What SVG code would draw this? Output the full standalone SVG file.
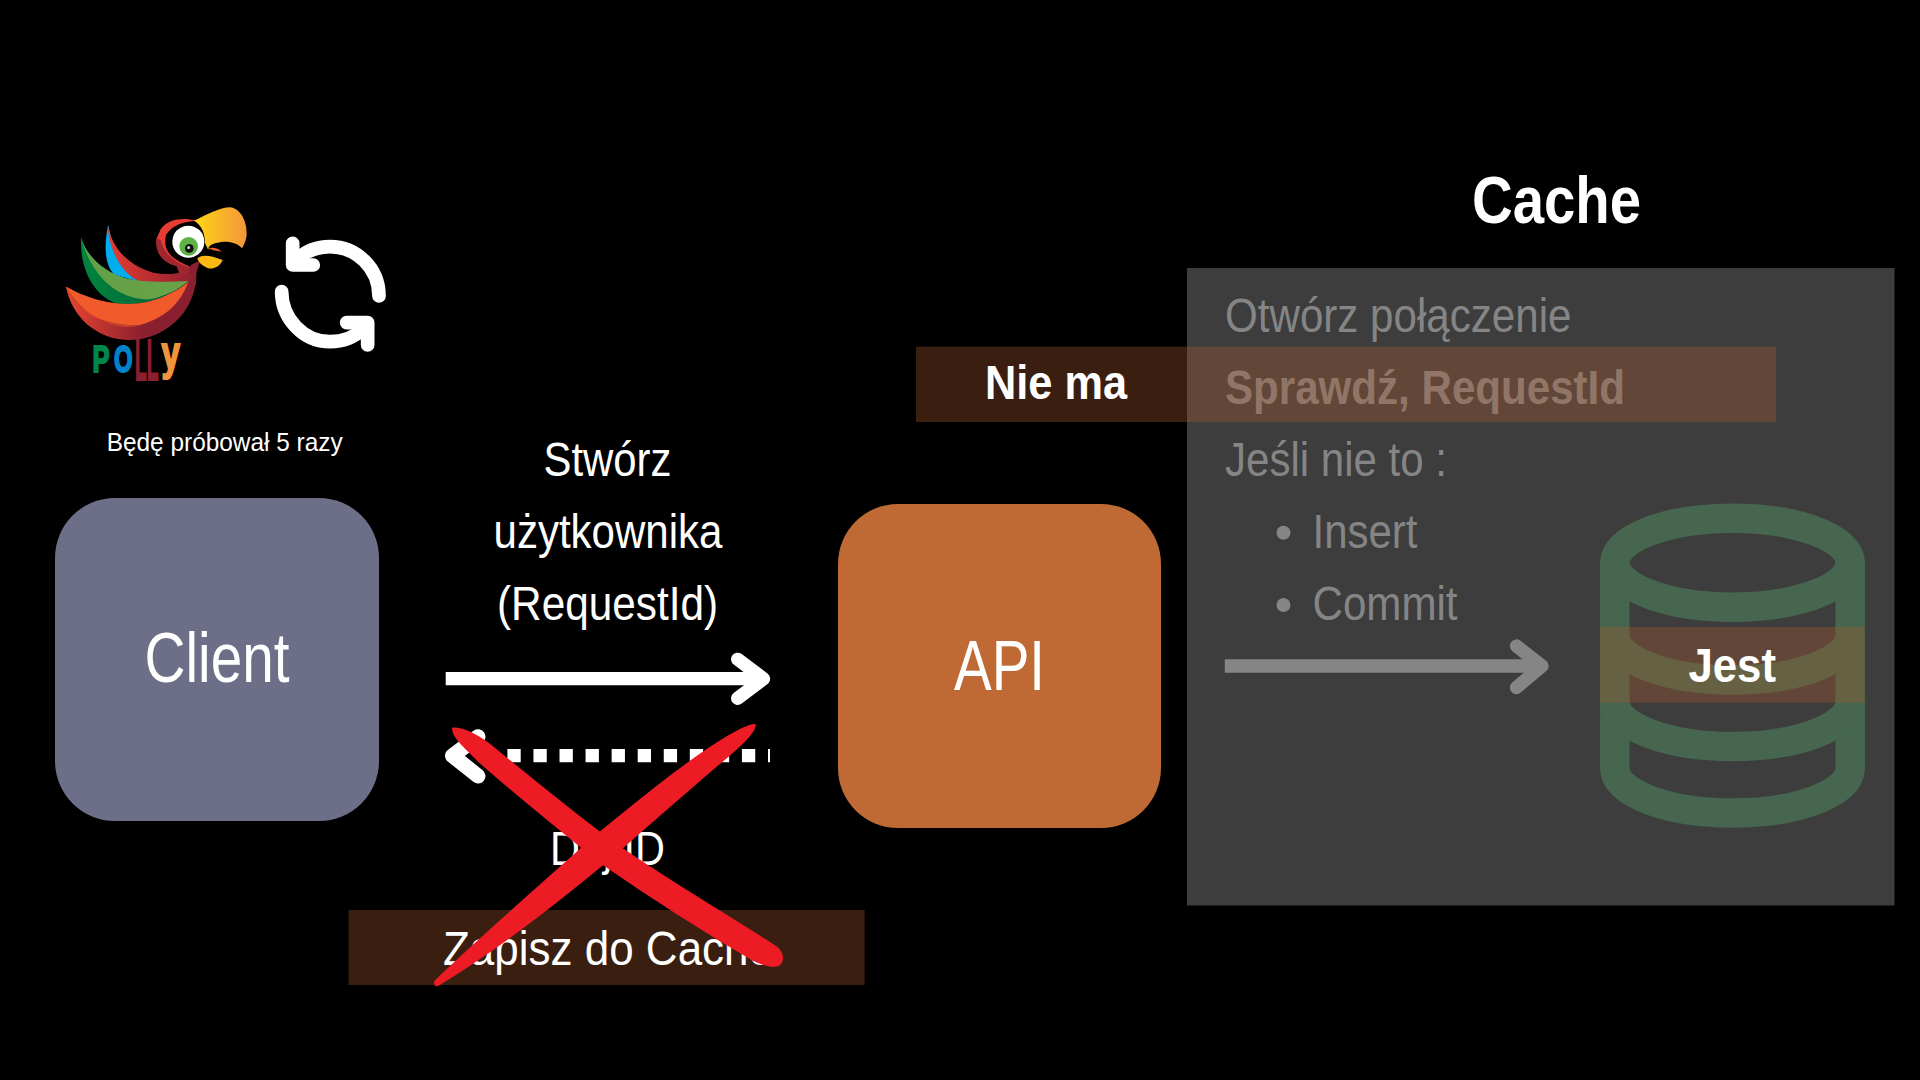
<svg xmlns="http://www.w3.org/2000/svg" width="1920" height="1080" viewBox="0 0 1920 1080">
<style>
text{font-family:"Liberation Sans Narrow","Liberation Sans",Arial,sans-serif;fill:#fff}
.t48{font-size:49px}
.b{font-weight:700}
.g{fill:#858585}
.ar{fill:none;stroke:#fff;stroke-width:13.3;stroke-linejoin:round;stroke-linecap:round}
.ln{fill:none;stroke:#fff;stroke-width:13.3}
.band{fill:#a85a2e;fill-opacity:.344}
</style>
<defs>
<linearGradient id="beak" x1="0" x2="1" y1="0" y2="0"><stop offset="0" stop-color="#ffd513"/><stop offset="1" stop-color="#f2963a"/></linearGradient>
<linearGradient id="wred" x1="0" x2="1" y1="0" y2="0"><stop offset="0" stop-color="#e63c33"/><stop offset="1" stop-color="#8a1f2f"/></linearGradient>
<linearGradient id="wgreen" x1="0" x2="1" y1="0" y2="1"><stop offset="0" stop-color="#5f9e46"/><stop offset="1" stop-color="#6aa34a"/></linearGradient>
<linearGradient id="wdark" x1="0" x2="1" y1="0" y2="0"><stop offset="0" stop-color="#00853f"/><stop offset="1" stop-color="#005c33"/></linearGradient>
<linearGradient id="body" x1="0" x2="1" y1="0" y2="0"><stop offset="0" stop-color="#e8452f"/><stop offset=".6" stop-color="#8a1f2f"/></linearGradient>
</defs>
<rect width="1920" height="1080" fill="#000"/>

<g id="polly-logo">
<g transform="translate(40,190) scale(.33333)">
<path d="M205,105C190,170 195,230 225,255L300,275C250,220 215,170 205,105Z" fill="#00aeef"/>
<path d="M203,105C215,170 260,225 340,248C390,258 440,252 470,215L468,285C430,295 340,290 290,270C240,245 205,170 203,105Z" fill="url(#wred)"/>
<path d="M123,142C118,270 190,345 270,350C350,340 420,300 445,275C400,278 350,280 300,275C210,265 140,205 123,142Z" fill="url(#wdark)"/>
<path d="M123,142C140,205 210,265 300,272C350,277 400,275 445,273C420,295 380,318 330,328C250,330 160,280 123,142Z" fill="url(#wgreen)"/>
<path d="M78,290C95,380 170,450 270,450C370,450 465,370 468,262L445,275C400,310 360,330 300,340C220,350 140,325 78,290Z" fill="url(#body)"/>
<path d="M78,290C140,325 220,350 300,340C360,330 410,305 445,275C420,345 370,385 300,405C200,410 110,370 78,290Z" fill="#f15a2b"/>
<path d="M78,290C110,370 200,410 300,405C250,425 140,395 78,290Z" fill="#c8402f"/>
<path d="M470,92C430,82 385,85 362,118L350,145C345,180 360,215 410,228L418,248L445,250L450,230C405,210 365,190 378,135C395,105 430,95 470,92Z" fill="#e63c33"/>
<path d="M350,145C345,180 360,215 410,228L418,248L445,250L450,232C415,222 375,200 362,150Z" fill="#a0262f"/>
<path d="M445,250L468,252L480,212L452,225Z" fill="#8a1f2f"/>
<circle cx="443" cy="155" r="55" fill="#000"/>
<circle cx="445" cy="155" r="48" fill="#fff"/>
<circle cx="446" cy="169" r="28" fill="#5fb346"/>
<circle cx="448" cy="175" r="13" fill="#111"/>
<circle cx="446" cy="173" r="4" fill="#fff"/>
<path d="M462,92C500,75 540,52 570,52C600,55 620,90 620,130C620,150 612,165 606,175C590,155 555,150 525,160C510,165 505,170 505,180L495,160C495,130 485,105 462,92Z" fill="url(#beak)"/>
<path d="M472,205C490,190 520,200 548,210C540,230 520,238 505,235C490,230 475,218 472,205Z" fill="#fdb913"/>
<path d="M505,175C520,170 535,175 545,185C530,182 515,182 505,175Z" fill="#f15a2b"/>
</g>
<text class="b"><tspan x="92.5" y="371.7" font-size="36" style="fill:#00854a;stroke:#00854a;stroke-width:2" textLength="17" lengthAdjust="spacingAndGlyphs">P</tspan><tspan x="114" y="371.7" font-size="36" style="fill:#0083ca;stroke:#0083ca;stroke-width:2" textLength="18.5" lengthAdjust="spacingAndGlyphs">O</tspan><tspan x="135" y="379.7" font-size="58" style="fill:#8a1f2f;stroke:#8a1f2f;stroke-width:2" textLength="23.5" lengthAdjust="spacingAndGlyphs">LL</tspan><tspan x="161.5" y="369" font-size="46" style="fill:#f0953d;stroke:#f0953d;stroke-width:2" textLength="18.5" lengthAdjust="spacingAndGlyphs">y</tspan></text>
</g>

<g id="retry-icon" transform="translate(40,190) scale(.33333)" fill="none" stroke="#fff" stroke-width="41" stroke-linecap="round" stroke-linejoin="round">
<path d="M1017,318C1017,235 950,170 870,170C830,170 795,185 770,210"/>
<path d="M758,160V225H820"/>
<path d="M725,305C725,385 790,455 870,455C910,455 945,440 965,420"/>
<path d="M983,465V398H920"/>
</g>
<text id="retry-label" x="106.7" y="450.7" font-size="26.5" textLength="236" lengthAdjust="spacingAndGlyphs">Będę próbował 5 razy</text>

<g id="client"><rect x="55" y="498" width="324" height="323" rx="60" fill="#6d6e87"/><text x="144.5" y="682" font-size="71" textLength="145" lengthAdjust="spacingAndGlyphs">Client</text></g>
<g id="api"><rect x="838" y="504" width="323" height="324" rx="60" fill="#bf6a35"/><text x="954" y="690" font-size="71" textLength="91" lengthAdjust="spacingAndGlyphs">API</text></g>

<g id="request-label" class="t48">
<text x="543.5" y="476" textLength="128" lengthAdjust="spacingAndGlyphs">Stwórz</text>
<text x="493.5" y="548" textLength="229" lengthAdjust="spacingAndGlyphs">użytkownika</text>
<text x="497" y="620" textLength="221" lengthAdjust="spacingAndGlyphs">(RequestId)</text>
</g>

<g id="connectors">
<path class="ln" d="M445.7,678.7H763"/>
<path class="ar" d="M737.7,659.3L763.5,678.7L737.7,698.3"/>
<path class="ln" d="M507.4,755.7H770" stroke-dasharray="13.3 12.76"/>
<path class="ar" d="M478,736.7L452.5,755.7L478,776" style="stroke-width:15"/>
</g>

<text id="reply-label" class="t48" x="550" y="865" textLength="115" lengthAdjust="spacingAndGlyphs">Daj ID</text>
<g id="save-cache"><rect x="348.6" y="910" width="516" height="75" fill="#3a1f10"/><text class="t48" x="443" y="965" textLength="330" lengthAdjust="spacingAndGlyphs">Zapisz do Cache</text></g>

<g id="red-cross" transform="translate(340,640) scale(.3444,.33333)" fill="#ed1c24" stroke="#ed1c24" stroke-width="5" stroke-linejoin="round">
<path d="M328,265C350,262 390,280 430,310C560,420 680,520 770,590C900,690 1100,810 1265,920C1285,935 1290,960 1275,975C1260,982 1230,975 1200,960C1050,870 900,770 760,670C640,570 520,470 410,370C370,330 325,290 328,265Z"/>
<path d="M1205,255C1205,275 1170,310 1130,345C1010,450 900,550 790,650C650,770 470,920 285,1035C275,1040 272,1028 280,1020C420,880 590,730 740,590C870,480 1000,370 1110,300C1150,275 1190,252 1205,255Z"/>
</g>

<text id="cache-title" class="b" x="1472" y="223" font-size="67" textLength="169" lengthAdjust="spacingAndGlyphs">Cache</text>

<g id="cache">
<rect x="1187" y="268" width="707.5" height="637.5" fill="#3d3d3d"/>
<g class="t48">
<text class="g" x="1225" y="332" textLength="346.5" lengthAdjust="spacingAndGlyphs">Otwórz połączenie</text>
<text class="g b" x="1225" y="404" textLength="400" lengthAdjust="spacingAndGlyphs">Sprawdź, RequestId</text>
<text class="g" x="1225" y="476" textLength="222" lengthAdjust="spacingAndGlyphs">Jeśli nie to :</text>
<text class="g" x="1312.5" y="548" textLength="105" lengthAdjust="spacingAndGlyphs">Insert</text>
<text class="g" x="1312.5" y="620" textLength="145" lengthAdjust="spacingAndGlyphs">Commit</text>
</g>
<circle cx="1283.5" cy="532.7" r="7" fill="#858585"/>
<circle cx="1283.5" cy="605" r="7" fill="#858585"/>
</g>

<g id="cache-arrow">
<path d="M1224.8,666H1541" fill="none" stroke="#858585" stroke-width="13.3"/>
<path d="M1516.5,646L1542,666L1516.5,687.5" fill="none" stroke="#858585" stroke-width="13.3" stroke-linecap="round" stroke-linejoin="round"/>
</g>

<g id="database" fill="none" stroke="#46664f" stroke-width="29.5">
<ellipse cx="1732.5" cy="562.7" rx="117.7" ry="44.5"/>
<path d="M1614.8,562.7V768.5A117.7,44.5 0 0 0 1850.2,768.5V562.7"/>
<path d="M1614.8,635.5A117.7,44.5 0 0 0 1850.2,635.5"/>
<path d="M1614.8,702A117.7,44.5 0 0 0 1850.2,702"/>
</g>

<g id="nie-ma"><rect class="band" x="916" y="346.7" width="860" height="75.3"/><text class="t48 b" x="985" y="399" textLength="142" lengthAdjust="spacingAndGlyphs">Nie ma</text></g>
<g id="jest"><rect class="band" x="1600" y="627" width="264.5" height="75.7"/><text class="t48 b" x="1688.5" y="681.7" textLength="87.5" lengthAdjust="spacingAndGlyphs">Jest</text></g>
</svg>
